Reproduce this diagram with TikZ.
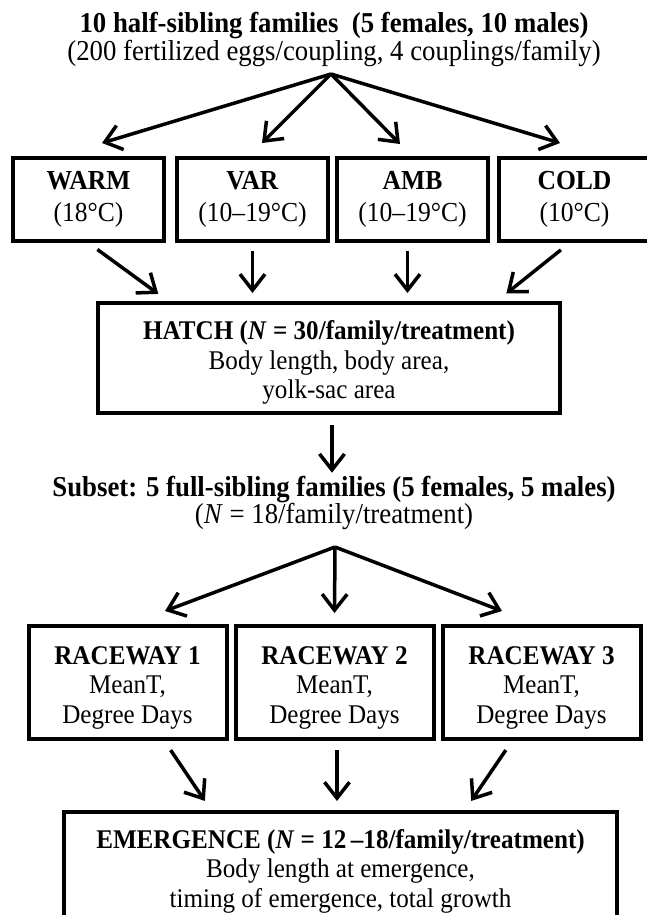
\documentclass[tikz,border=0pt]{standalone}
\usepackage{fontspec}
\setmainfont{Liberation Serif}[FakeStretch=0.93]
\usetikzlibrary{arrows.meta}

\newcommand{\lift}{\rule{0pt}{1.05em}}

\tikzset{
  arr/.style={line width=3.5pt, -{Straight Barb[length=16pt,width=25pt]}},
  head/.style={align=center, inner sep=0pt, font=\fontsize{28.8}{25.5}\selectfont},
  treat/.style={draw, line width=4pt, align=center, inner sep=0pt,
    minimum width=151pt, minimum height=83pt, font=\fontsize{27.5}{32}\selectfont},
  stage/.style={draw, line width=4pt, align=center, inner sep=0pt,
    font=\fontsize{27}{29.5}\selectfont},
  race/.style={draw, line width=4pt, align=center, inner sep=0pt,
    minimum width=198pt, minimum height=113pt, font=\fontsize{27}{29.5}\selectfont}
}

\begin{document}
\begin{tikzpicture}[x=1pt,y=-1pt]
\useasboundingbox (0,0) rectangle (647,915);

% families and treatments
\node[head] (families) at (334,39.5) {\textbf{10 half-sibling families~~(5 females, 10 males)}\\
  (200 fertilized eggs/coupling, 4 couplings/family)};
\coordinate (split1) at (331,74);

\node[treat] (warm) at (88.5,199.5) {\textbf{WARM}\\(18°C)};
\node[treat] (var) at (252.5,199.5) {\textbf{VAR}\\(10--19°C)};
\node[treat] (amb) at (412.5,199.5) {\textbf{AMB}\\(10--19°C)};
\node[treat] (cold) at (574.5,199.5) {\textbf{COLD}\\(10°C)};

\draw[arr] (split1) -- ([xshift=13.5pt,yshift=13pt]warm.north);
\draw[arr] (split1) -- ([xshift=9.5pt,yshift=13pt]var.north);
\draw[arr] (split1) -- ([xshift=-12.5pt,yshift=12pt]amb.north);
\draw[arr] (split1) -- ([xshift=-14.5pt,yshift=13pt]cold.north);

% hatch
\node[stage, minimum width=462pt, minimum height=110pt] (hatch) at (329,358)
  {\lift\textbf{HATCH (\textit{N} = 30/family/treatment)}\\Body length, body area,\\yolk-sac area};

\draw[arr, shorten <=11pt, shorten >=12pt] (warm.south) -- ([xshift=72pt]hatch.north west);
\draw[arr, shorten <=8pt, shorten >=8pt] (var.south) -- (var.south |- hatch.north);
\draw[arr, shorten <=8pt, shorten >=8pt] ([xshift=-5pt]amb.south) -- ([xshift=-5pt]amb.south |- hatch.north);
\draw[arr, shorten <=11pt, shorten >=12pt] ([xshift=-5pt]cold.south) -- ([xshift=-65pt]hatch.north east);

% subset and raceways
\node[head] (subset) at (334,503) {\textbf{Subset: 5 full-sibling families (5 females, 5 males)}\\
  (\textit{N} = 18/family/treatment)};
\draw[arr, shorten <=10pt, shorten >=3pt] ([xshift=3pt]hatch.south) -- ([xshift=3pt]hatch.south |- subset.north);
\coordinate (split2) at (335,547);

\node[race] (race1) at (127.5,682.5) {\lift\textbf{RACEWAY 1}\\MeanT,\\Degree Days};
\node[race] (race2) at (334.5,682.5) {\lift\textbf{RACEWAY 2}\\MeanT,\\Degree Days};
\node[race] (race3) at (541.5,682.5) {\lift\textbf{RACEWAY 3}\\MeanT,\\Degree Days};

\draw[arr] (split2) -- ([xshift=37.5pt,yshift=13pt]race1.north);
\draw[arr] (split2) -- ([yshift=11pt]race2.north);
\draw[arr] (split2) -- ([xshift=-39.5pt,yshift=13pt]race3.north);

% emergence
\node[stage, minimum width=553pt, minimum height=109pt] (emerg) at (340.5,866.5)
  {\lift\textbf{EMERGENCE (\textit{N} = 12\,--18/family/treatment)}\\Body length at emergence,\\timing of emergence, total growth};

\draw[arr, shorten <=11pt, shorten >=11pt] ([xshift=37pt]race1.south) -- ([xshift=149pt]emerg.north west);
\draw[arr, shorten <=9pt, shorten >=9pt] ([xshift=2.5pt]race2.south) -- ([xshift=2.5pt]race2.south |- emerg.north);
\draw[arr, shorten <=11pt, shorten >=11pt] ([xshift=-29.5pt]race3.south) -- ([xshift=-154pt]emerg.north east);

\end{tikzpicture}
\end{document}
